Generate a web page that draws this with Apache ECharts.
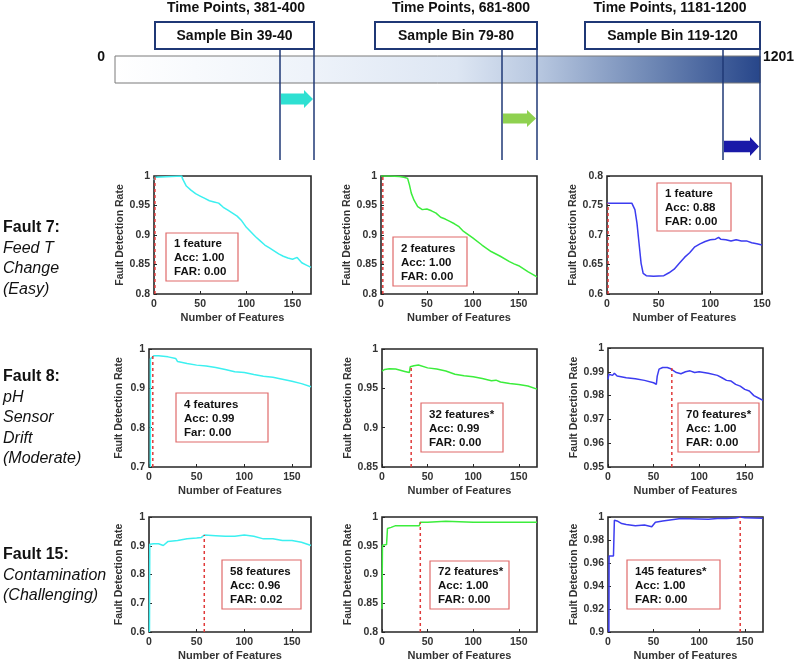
<!DOCTYPE html>
<html>
<head>
<meta charset="utf-8">
<script src="https://cdn.jsdelivr.net/npm/echarts@6/dist/echarts.min.js"></script>
<style>
html,body{margin:0;padding:0;background:#fff;}
#chart{width:800px;height:662px;}
</style>
</head>
<body>
<div id="chart"></div>
<script>
// ---------- DATA ----------
const rowLabels = [
  ['Fault 7:', 'Feed T', 'Change', '(Easy)'],
  ['Fault 8:', 'pH', 'Sensor', 'Drift', '(Moderate)'],
  ['Fault 15:', 'Contamination', '(Challenging)']
];
const timeLabels = ['Time Points, 381-400', 'Time Points, 681-800', 'Time Points, 1181-1200'];
const binLabels = ['Sample Bin 39-40', 'Sample Bin 79-80', 'Sample Bin 119-120'];
const timeStart = '0';
const timeEnd = '1201';

// Fault 7, bin 39-40
const f7b40_x = [0,1,2,30,31,35,40,45,50,55,60,65,70,75,80,85,90,95,100,105,110,115,120,125,130,135,140,145,150,155,160,165,170];
const f7b40_y = [0.993,0.998,1.0,1.0,0.995,0.983,0.976,0.970,0.966,0.962,0.958,0.956,0.954,0.947,0.942,0.937,0.932,0.924,0.913,0.905,0.897,0.890,0.883,0.878,0.873,0.868,0.864,0.861,0.859,0.862,0.853,0.849,0.845];
// Fault 7, bin 79-80
const f7b80_x = [0,10,20,25,29,31,33,36,40,45,50,55,60,65,70,75,80,85,90,100,110,120,130,140,145,150,160,170];
const f7b80_y = [1.0,1.0,0.999,0.998,0.996,0.985,0.971,0.959,0.948,0.943,0.944,0.941,0.937,0.930,0.927,0.923,0.919,0.914,0.906,0.895,0.883,0.872,0.864,0.855,0.851,0.848,0.838,0.829];
// Fault 7, bin 119-120
const f7b120_x = [0,24,27,29,31,33,35,38,45,55,60,65,70,75,80,85,90,95,100,105,108,110,115,120,125,130,135,140,145,150];
const f7b120_y = [0.754,0.754,0.743,0.720,0.686,0.652,0.635,0.631,0.630,0.631,0.636,0.642,0.652,0.662,0.670,0.680,0.685,0.689,0.692,0.693,0.696,0.693,0.692,0.690,0.692,0.690,0.690,0.687,0.685,0.683];
// Fault 8, bin 39-40
const f8b40_x = [1.4,1.5,3,5,10,20,28,30,40,50,60,70,80,90,100,110,120,130,140,150,160,170];
const f8b40_y = [0.70,0.975,0.980,0.983,0.983,0.980,0.976,0.968,0.963,0.959,0.957,0.953,0.948,0.942,0.940,0.935,0.931,0.928,0.923,0.918,0.912,0.904];
// Fault 8, bin 79-80
const f8b80_x = [0,3,8,15,20,25,30,31,32,35,40,50,60,70,80,90,100,110,120,125,130,140,150,160,170];
const f8b80_y = [0.972,0.974,0.975,0.9745,0.973,0.9715,0.970,0.9775,0.9796,0.9787,0.9796,0.976,0.9745,0.972,0.968,0.966,0.9647,0.9626,0.9596,0.9604,0.958,0.956,0.955,0.953,0.949];
// Fault 8, bin 119-120
const f8b120_x = [0,1,5,7,10,20,30,40,50,53,54,56,60,65,68,70,75,80,85,90,95,100,110,120,125,130,135,140,145,150,155,160,165,170];
const f8b120_y = [0.9868,0.989,0.9885,0.9894,0.9882,0.9875,0.9871,0.9864,0.9854,0.9847,0.9882,0.9911,0.9918,0.9918,0.9914,0.992,0.9897,0.9892,0.990,0.9904,0.9897,0.990,0.9894,0.9885,0.9875,0.9864,0.9861,0.9847,0.984,0.9826,0.9819,0.980,0.979,0.978];
// Fault 15, bin 39-40
const f15b40_x = [0.5,0.8,2,5,10,15,20,30,40,50,55,58,60,70,80,90,100,110,120,130,140,150,160,170];
const f15b40_y = [0.6,0.905,0.909,0.907,0.907,0.901,0.915,0.918,0.924,0.927,0.929,0.937,0.933,0.935,0.933,0.933,0.937,0.933,0.924,0.924,0.918,0.918,0.912,0.901];
// Fault 15, bin 79-80
const f15b80_x = [0,0.5,5,6,10,15,20,30,41,42,50,70,100,130,170];
const f15b80_y = [0.84,0.951,0.952,0.98,0.982,0.985,0.985,0.985,0.985,0.991,0.991,0.9926,0.991,0.991,0.991];
// Fault 15, bin 119-120
const f15b120_x = [1,1.2,6,7,10,15,20,30,40,48,50,52,60,70,80,100,110,120,130,140,145,150,160,170];
const f15b120_y = [0.9,0.966,0.966,0.9972,0.9966,0.9943,0.9935,0.9923,0.993,0.9915,0.993,0.9955,0.9966,0.9977,0.9986,0.9983,0.998,0.9986,0.9986,0.9991,0.9999,0.9994,0.9991,0.9989];

const seriesX = [f7b40_x, f7b80_x, f7b120_x, f8b40_x, f8b80_x, f8b120_x, f15b40_x, f15b80_x, f15b120_x];
const seriesY = [f7b40_y, f7b80_y, f7b120_y, f8b40_y, f8b80_y, f8b120_y, f15b40_y, f15b80_y, f15b120_y];

// selected feature marker (red dashed line) x and top value
const selX   = [1, 2, 1, 4, 32, 70, 58, 42, 145];
const selTop = [1.0, 1.0, 0.754, 0.983, 0.9796, 0.992, 0.937, 0.991, 0.9999];

// axis ranges
const xMaxes = [170, 170, 150, 170, 170, 170, 170, 170, 170];
const yMins  = [0.8, 0.8, 0.6, 0.7, 0.85, 0.95, 0.6, 0.8, 0.9];
const yMaxes = [1, 1, 0.8, 1, 1, 1, 1, 1, 1];
const yIntervals = [0.05, 0.05, 0.05, 0.1, 0.05, 0.01, 0.1, 0.05, 0.02];

const annotations = [
  '1 feature\nAcc: 1.00\nFAR: 0.00',
  '2 features\nAcc: 1.00\nFAR: 0.00',
  '1 feature\nAcc: 0.88\nFAR: 0.00',
  '4 features\nAcc: 0.99\nFar: 0.00',
  '32 features*\nAcc: 0.99\nFAR: 0.00',
  '70 features*\nAcc: 1.00\nFAR: 0.00',
  '58 features\nAcc: 0.96\nFAR: 0.02',
  '72 features*\nAcc: 1.00\nFAR: 0.00',
  '145 features*\nAcc: 1.00\nFAR: 0.00'
];
const xAxisName = 'Number of Features';
const yAxisName = 'Fault Detection Rate';

// ---------- STYLE / LAYOUT ----------
const FONT = '"Liberation Sans", Arial, Helvetica, sans-serif';
const lineColors = ['#3cf0f0', '#3ced3c', '#3c3cf0'];
const gridLayout = [
  [154,176,157,118],[381,176,156,118],[607,176,155,118],
  [149,349,162,118],[382,349,155,118],[608,348,155,119],
  [149,517,162,117],[382,517,155,116],[608,517,155,117]
];
const annBoxes = [
  [166,233,72,48],[393,237,74,49],[657,183,74,48],
  [176,393,92,49],[421,403,82,49],[678,403,81,49],
  [222,560,79,49],[430,561,79,48],[627,560,93,49]
];

const grids = [], xAxes = [], yAxes = [], series = [];
for (let i = 0; i < 9; i++) {
  const g = gridLayout[i];
  grids.push({left:g[0], top:g[1], width:g[2], height:g[3], show:true,
    borderColor:'#262626', borderWidth:1.6, backgroundColor:'#fff', containLabel:false});
  xAxes.push({type:'value', gridIndex:i, min:0, max:xMaxes[i], interval:50,
    axisLine:{show:false},
    axisTick:{show:true, inside:true, length:3, lineStyle:{color:'#262626'}},
    splitLine:{show:false},
    axisLabel:{color:'#333', fontFamily:FONT, fontWeight:'bold', fontSize:10.5, margin:5,
      showMaxLabel: xMaxes[i] % 50 === 0},
    name:xAxisName, nameLocation:'middle', nameGap:18,
    nameTextStyle:{color:'#333', fontFamily:FONT, fontWeight:'bold', fontSize:11}
  });
  yAxes.push({type:'value', gridIndex:i, min:yMins[i], max:yMaxes[i], interval:yIntervals[i],
    axisLine:{show:false},
    axisTick:{show:true, inside:true, length:3, lineStyle:{color:'#262626'}},
    splitLine:{show:false},
    axisLabel:{color:'#333', fontFamily:FONT, fontWeight:'bold', fontSize:10.5, margin:4},
    name:yAxisName, nameLocation:'middle', nameGap:24, nameRotate:90,
    nameTextStyle:{color:'#333', fontFamily:FONT, fontWeight:'bold', fontSize:10.5}
  });
  const data = seriesX[i].map((x, k) => [x, seriesY[i][k]]);
  series.push({type:'line', xAxisIndex:i, yAxisIndex:i, data:data, showSymbol:false,
    symbol:'none', animation:false, z:3,
    lineStyle:{color:lineColors[i % 3], width:1.5}});
  series.push({type:'line', xAxisIndex:i, yAxisIndex:i,
    data:[[selX[i], yMins[i]], [selX[i], selTop[i]]], symbol:'none', animation:false, z:4,
    lineStyle:{color:'#e03a3a', width:1.5, type:[3,3]}});
}

// graphic elements
const navy = '#1f3876';
const gfx = [];
// row labels
const rowStartY = [228, 377, 555];
rowLabels.forEach((lines, r) => {
  lines.forEach((t, k) => {
    gfx.push({type:'text', x:3, y:rowStartY[r] + k * 20.5, z:10,
      style:{text:t, fill:'#111', font:(k === 0 ? 'bold ' : 'italic ') + '16px ' + FONT,
        align:'left', verticalAlign:'middle'}});
  });
});
// annotation boxes
annBoxes.forEach((b, i) => {
  gfx.push({type:'rect', z:20, shape:{x:b[0], y:b[1], width:b[2], height:b[3]},
    style:{fill:'#fff', stroke:'#e06a6a', lineWidth:1.2}});
  gfx.push({type:'text', z:21, x:b[0] + 8, y:b[1] + b[3] / 2 + 1,
    style:{text:annotations[i], fill:'#111', font:'bold 11.5px ' + FONT,
      align:'left', verticalAlign:'middle', lineHeight:14}});
});
// timeline bar
gfx.push({type:'rect', z:5, shape:{x:115, y:56, width:645, height:27},
  style:{fill:new echarts.graphic.LinearGradient(0,0,1,0,[
    {offset:0, color:'#ffffff'}, {offset:0.3, color:'#eef3fa'}, {offset:0.53, color:'#dde6f3'},
    {offset:0.66, color:'#b6c6df'}, {offset:0.83, color:'#6f88b5'}, {offset:1, color:'#27468a'}]),
    stroke:'#7a7a7a', lineWidth:1}});
gfx.push({type:'text', z:6, x:105, y:57, style:{text:timeStart, fill:'#111', font:'bold 14px ' + FONT, align:'right', verticalAlign:'middle'}});
gfx.push({type:'text', z:6, x:763, y:57, style:{text:timeEnd, fill:'#111', font:'bold 14px ' + FONT, align:'left', verticalAlign:'middle'}});
const binBoxes = [[155,22,159,27],[375,22,162,27],[585,22,175,27]];
const timeCx = [236, 461, 670];
const vLines = [[280,314],[502,537],[723,760]];
const arrowY = [[90,108],[110,127],[137,156]];
const arrowColors = ['#2ee0d2', '#8fd150', '#1a1aa8'];
for (let i = 0; i < 3; i++) {
  const b = binBoxes[i];
  gfx.push({type:'text', z:6, x:timeCx[i], y:8, style:{text:timeLabels[i], fill:'#111', font:'bold 14px ' + FONT, align:'center', verticalAlign:'middle'}});
  gfx.push({type:'rect', z:6, shape:{x:b[0], y:b[1], width:b[2], height:b[3]}, style:{fill:'#fff', stroke:navy, lineWidth:2}});
  gfx.push({type:'text', z:7, x:b[0] + b[2] / 2, y:b[1] + b[3] / 2 + 1, style:{text:binLabels[i], fill:'#111', font:'bold 14px ' + FONT, align:'center', verticalAlign:'middle'}});
  const v = vLines[i];
  gfx.push({type:'line', z:8, shape:{x1:v[0], y1:49, x2:v[0], y2:160}, style:{stroke:navy, lineWidth:1.5}});
  gfx.push({type:'line', z:8, shape:{x1:v[1], y1:49, x2:v[1], y2:160}, style:{stroke:navy, lineWidth:1.5}});
  const a = arrowY[i];
  const mid = (a[0] + a[1]) / 2, hb = v[1] - 10, bh = (a[1] - a[0]) * 0.3;
  gfx.push({type:'polygon', z:8, shape:{points:[[v[0]+1, mid-bh],[hb, mid-bh],[hb, a[0]],[v[1]-1, mid],[hb, a[1]],[hb, mid+bh],[v[0]+1, mid+bh]]},
    style:{fill:arrowColors[i]}});
}

const chart = echarts.init(document.getElementById('chart'), null, {renderer:'canvas'});
chart.setOption({
  animation:false,
  backgroundColor:'#fff',
  grid:grids, xAxis:xAxes, yAxis:yAxes, series:series,
  graphic:{elements:gfx}
});
</script>
</body>
</html>
